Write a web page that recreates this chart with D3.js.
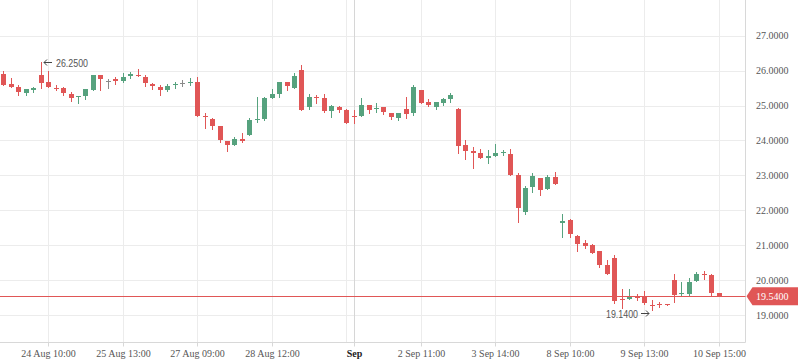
<!DOCTYPE html>
<html><head><meta charset="utf-8">
<script src="https://cdn.jsdelivr.net/npm/d3@7"></script>
<style>html,body{margin:0;padding:0;background:#fff;}svg{display:block;}</style>
</head><body>
<svg id="c" width="798" height="363"></svg>
<script>
// ---- data ----
const open  = [25.90,25.63,25.54,25.37,25.44,25.88,25.67,25.51,25.50,25.34,25.24,25.28,25.44,25.87,25.69,25.75,25.71,25.86,25.88,25.82,25.61,25.53,25.44,25.60,25.65,25.65,25.67,24.70,24.61,24.41,23.98,23.87,24.04,24.16,24.58,24.61,25.22,25.33,25.67,25.51,26.02,24.97,25.24,25.21,24.85,24.96,24.87,24.70,24.71,25.02,24.90,24.96,24.79,24.65,24.90,24.79,25.45,25.10,24.97,25.08,25.19,24.90,23.87,23.70,23.64,23.51,23.54,23.63,23.62,23.01,21.96,22.67,22.92,22.62,22.95,21.645,21.72,21.27,21.07,21.01,20.83,20.43,20.63,19.45,19.45,19.54,19.54,19.30,19.31,19.31,20.00,19.59,19.61,19.96,20.18,20.15,19.64];
const high  = [26.00,25.79,25.60,25.48,25.54,26.25,25.98,25.59,25.54,25.38,25.27,25.47,25.87,25.87,25.77,25.81,25.92,25.96,26.05,25.88,25.65,25.60,25.62,25.67,25.74,25.79,25.83,24.80,24.64,24.41,23.98,24.09,24.21,24.64,25.24,25.25,25.47,25.67,25.67,25.93,26.16,25.33,25.31,25.33,25.02,25.00,24.90,24.87,25.22,25.02,25.07,24.96,24.79,24.79,25.24,25.59,25.45,25.19,25.10,25.22,25.36,24.93,24.01,23.81,23.76,23.73,23.90,23.73,23.76,23.07,22.70,23.07,22.92,23.01,23.11,21.89,21.75,21.30,21.15,21.04,20.83,20.58,20.72,19.75,19.75,19.60,19.70,19.43,19.37,19.31,20.18,19.95,20.05,20.24,20.26,20.18,19.64];
const low   = [25.58,25.52,25.31,25.31,25.40,25.51,25.54,25.44,25.31,25.14,25.08,25.20,25.44,25.44,25.51,25.62,25.67,25.80,25.85,25.57,25.48,25.31,25.42,25.51,25.56,25.58,24.71,24.37,24.32,23.96,23.71,23.87,23.96,24.16,24.53,24.59,25.22,25.25,25.44,25.51,24.88,24.90,25.08,24.81,24.68,24.81,24.51,24.51,24.71,24.80,24.81,24.76,24.62,24.59,24.65,24.74,25.08,24.99,24.90,25.02,25.10,23.65,23.48,23.22,23.51,23.35,23.54,23.58,23.02,21.67,21.89,22.53,22.45,22.62,22.76,21.24,21.24,20.84,20.93,20.79,20.38,20.18,19.35,19.20,19.45,19.43,19.32,19.14,19.22,19.30,19.38,19.57,19.57,19.96,20.04,19.53,19.54];
const close = [25.58,25.54,25.39,25.47,25.51,25.64,25.54,25.47,25.36,25.22,25.26,25.47,25.87,25.75,25.69,25.71,25.83,25.89,25.85,25.65,25.55,25.45,25.56,25.63,25.65,25.68,24.71,24.67,24.42,24.02,23.87,24.04,23.98,24.58,24.61,25.22,25.33,25.67,25.57,25.85,24.88,25.24,25.21,24.85,24.98,24.88,24.51,24.67,25.02,24.88,24.93,24.82,24.68,24.79,24.77,25.54,25.08,25.02,25.10,25.19,25.30,23.85,23.71,23.65,23.51,23.56,23.64,23.67,23.02,22.07,22.65,22.98,22.59,22.95,22.76,21.685,21.33,21.04,20.99,20.79,20.44,20.18,19.41,19.42,19.53,19.50,19.34,19.28,19.29,19.30,19.57,19.62,19.95,20.18,20.14,19.62,19.54];
const yTicks = [19,20,21,22,23,24,25,26,27];
const gridIdx = [6,16,26,36,46,56,66,76,86,96];
const tickIdx = [6,16,26,36,47,56,66,76,86,96];
const tickLabels = ["24 Aug 10:00","25 Aug 13:00","27 Aug 09:00","28 Aug 12:00","Sep","2 Sep 11:00","3 Sep 14:00","8 Sep 10:00","9 Sep 13:00","10 Sep 15:00"];
const monthIdx = 47;
const lastPrice = 19.54;
const maxMark = {i:5, v:26.25};
const minMark = {i:87, v:19.14};

// ---- layout ----
const N = open.length;
const plotR = 745.5, plotB = 342.5;
const step = 7.45;
const svg = d3.select("#c");
const x = d3.scaleBand().domain(d3.range(N)).range([-0.225, -0.225 + N*step]).paddingInner(0.3).paddingOuter(0.15);
const y = d3.scaleLinear().domain([19, 27]).range([315, 35.7]);
const cx = i => Math.round(x(i) + x.bandwidth()/2);
const RED = "#e05656", GREEN = "#56a27e", GRAY = "#8a8a8a";
const py = v => Math.round(y(v)) + 0.5;

// grid
svg.append("g").selectAll("line").data(yTicks).join("line")
  .attr("x1",0).attr("x2",plotR).attr("y1",d=>py(d)).attr("y2",d=>py(d))
  .attr("stroke","#ececec");
svg.append("g").selectAll("line").data(gridIdx).join("line")
  .attr("x1",d=>cx(d)+0.5).attr("x2",d=>cx(d)+0.5).attr("y1",0).attr("y2",plotB)
  .attr("stroke","#ececec");
svg.append("line").attr("x1",cx(monthIdx)+0.5).attr("x2",cx(monthIdx)+0.5).attr("y1",0).attr("y2",plotB)
  .attr("stroke","#d6d6d6");

// axes lines
svg.append("line").attr("x1",0).attr("x2",plotR).attr("y1",plotB).attr("y2",plotB).attr("stroke","#d8d8d8");
svg.append("line").attr("x1",plotR).attr("x2",plotR).attr("y1",0).attr("y2",plotB).attr("stroke","#d8d8d8");

// x ticks + labels
const xg = svg.append("g");
xg.selectAll("line").data(tickIdx).join("line")
  .attr("x1",d=>cx(d)+0.5).attr("x2",d=>cx(d)+0.5).attr("y1",plotB).attr("y2",plotB+4)
  .attr("stroke","#d8d8d8");
xg.selectAll("text").data(tickIdx).join("text")
  .attr("x",d=>cx(d)+0.5).attr("y",357).attr("text-anchor","middle")
  .attr("font-family","Liberation Serif, serif").attr("font-size",10)
  .attr("fill",(d,k)=>d===monthIdx?"#222":"#555")
  .attr("font-weight",(d)=>d===monthIdx?"bold":"normal")
  .text((d,k)=>tickLabels[k]);

// y labels
const fmt = d3.format(".4f");
svg.append("g").selectAll("text").data(yTicks).join("text")
  .attr("x",756).attr("y",d=>y(d)+3.5)
  .attr("font-family","Liberation Serif, serif").attr("font-size",10).attr("fill","#555")
  .text(d=>fmt(d));

// candles
const idx = d3.range(N);
const col = i => close[i]>open[i]?GREEN:(close[i]<open[i]?RED:GRAY);
const cg = svg.append("g");
cg.selectAll("line").data(idx).join("line")
  .attr("x1",i=>cx(i)+0.5).attr("x2",i=>cx(i)+0.5)
  .attr("y1",i=>Math.round(y(high[i]))).attr("y2",i=>Math.round(y(low[i]))+1)
  .attr("stroke",col).attr("stroke-width",1);
cg.selectAll("rect").data(idx).join("rect")
  .attr("x",i=>cx(i)-2).attr("width",5)
  .attr("y",i=>Math.round(y(Math.max(open[i],close[i]))))
  .attr("height",i=>Math.max(1,Math.round(y(Math.min(open[i],close[i])))-Math.round(y(Math.max(open[i],close[i])))))
  .attr("fill",col);

// last price line + label
svg.append("line").attr("x1",0).attr("x2",plotR).attr("y1",py(lastPrice)).attr("y2",py(lastPrice)).attr("stroke",RED);
const ly = y(lastPrice);
svg.append("path").attr("d",`M${plotR+1},${ly} L${plotR+7},${ly-9} L798,${ly-9} L798,${ly+9} L${plotR+7},${ly+9} Z`).attr("fill",RED);
svg.append("text").attr("x",756).attr("y",ly+3.5).attr("font-family","Liberation Serif, serif").attr("font-size",10)
  .attr("fill","#fff").text(fmt(lastPrice));

// max/min annotations
const ann = svg.append("g").attr("fill","#555");
const mx = cx(maxMark.i)+2, my = Math.round(y(maxMark.v))+0.5;
ann.append("path").attr("d",`M${mx+9},${my} H${mx+1} M${mx+4},${my-3} L${mx+1},${my} L${mx+4},${my+3}`)
  .attr("stroke","#444").attr("fill","none").attr("stroke-width",1);
ann.append("text").attr("x",mx+13).attr("y",my+4.5).attr("font-family","Liberation Sans, sans-serif")
  .attr("font-size",10.5).attr("textLength",32).attr("lengthAdjust","spacingAndGlyphs").text(fmt(maxMark.v));
const nx = cx(minMark.i)-2, ny = Math.round(y(minMark.v))+3.5;
ann.append("path").attr("d",`M${nx-9},${ny} H${nx-1} M${nx-4},${ny-3} L${nx-1},${ny} L${nx-4},${ny+3}`)
  .attr("stroke","#444").attr("fill","none").attr("stroke-width",1);
ann.append("text").attr("x",nx-12).attr("y",ny+4).attr("text-anchor","end").attr("font-family","Liberation Sans, sans-serif")
  .attr("font-size",10.5).attr("textLength",32).attr("lengthAdjust","spacingAndGlyphs").text(fmt(minMark.v));
</script>
</body></html>
